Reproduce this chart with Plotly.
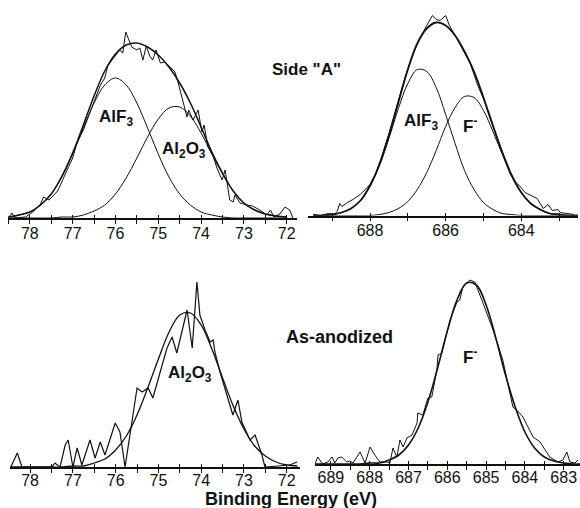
import plotly.graph_objects as go

# ---------------- data (intensities in arbitrary units) ----------------
# Top-left: Al 2p, Side "A"
tl_fit_ev = [78.5, 78.25, 78.0, 77.75, 77.5, 77.25, 77.0, 76.75, 76.5, 76.25, 76.0, 75.75, 75.5,
             75.25, 75.0, 74.75, 74.5, 74.25, 74.0, 73.75, 73.5, 73.25, 73.0, 72.75, 72.5, 72.25, 72.0]
tl_alf3 = [1, 3, 6, 13, 24, 41, 64, 90, 115, 133, 140, 133, 115, 90, 64, 41, 24, 13, 6, 3, 1, 0, 0, 0, 0, 0, 0]
tl_al2o3 = [0, 0, 0, 0, 0, 1, 1, 3, 7, 13, 24, 40, 60, 81, 99, 110, 111, 102, 85, 64, 44, 27, 15, 8, 4, 2, 1]
tl_env = [1, 3, 6, 13, 24, 42, 65, 93, 122, 147, 164, 173, 175, 171, 163, 151, 135, 115, 91, 66, 45, 27, 15, 8, 4, 2, 1]
tl_raw_ev = [78.50, 78.42, 78.35, 78.10, 77.93, 77.75, 77.68, 77.55, 77.35, 77.15, 77.00, 76.90, 76.75,
             76.60, 76.45, 76.35, 76.25, 76.18, 76.08, 76.00, 75.90, 75.83, 75.76, 75.62, 75.55, 75.50,
             75.43, 75.36, 75.28, 75.20, 75.13, 75.05, 74.95, 74.85, 74.72, 74.61, 74.54, 74.45, 74.33,
             74.29, 74.19, 74.07, 73.98, 73.93, 73.84, 73.72, 73.63, 73.51, 73.44, 73.33, 73.25, 73.21,
             73.09, 72.93, 72.80, 72.63, 72.46, 72.38, 72.30, 72.16, 72.04, 71.93, 71.86]
tl_raw = [0, 5, 0, 1, 6, 14, 21, 18, 27, 45, 60, 75, 88, 105, 122, 133, 140, 152, 158, 163, 168, 165,
          186, 171, 169, 168, 170, 158, 172, 162, 158, 168, 155, 156, 151, 146, 136, 122, 101, 108, 98,
          108, 86, 93, 71, 62, 50, 38, 48, 18, 16, 23, 15, 13, 12, 8, 3, 8, 1, 4, 11, 8, 0]

# Top-right: F 1s, Side "A"
tr_fit_ev = [689.5, 689.25, 689.0, 688.75, 688.5, 688.25, 688.0, 687.75, 687.5, 687.25, 687.0, 686.75,
             686.5, 686.25, 686.0, 685.75, 685.5, 685.25, 685.0, 684.75, 684.5, 684.25, 684.0, 683.75,
             683.5, 683.25, 683.0, 682.75, 682.5]
tr_alf3 = [0, 0, 1, 3, 7, 15, 29, 50, 77, 107, 132, 146, 144, 128, 101, 72, 45, 26, 13, 6, 2, 1, 0, 0, 0, 0, 0, 0, 0]
tr_fion = [0, 0, 0, 0, 0, 0, 0, 1, 3, 7, 14, 26, 43, 65, 89, 108, 119, 118, 105, 84, 61, 39, 23, 12, 6, 2, 1, 0, 0]
tr_env = [0, 0, 1, 3, 7, 15, 30, 51, 80, 113, 146, 172, 187, 193, 190, 180, 164, 144, 118, 90, 63, 40, 23, 12, 6, 2, 1, 0, 0]
tr_raw_ev = [689.50, 689.30, 689.10, 688.95, 688.87, 688.80, 688.74, 688.60, 688.45, 688.26, 688.10,
             688.00, 687.85, 687.70, 687.50, 687.30, 687.10, 686.90, 686.70, 686.50, 686.35, 686.25,
             686.15, 686.00, 685.90, 685.75, 685.55, 685.35, 685.15, 685.00, 684.85, 684.70, 684.50,
             684.30, 684.15, 684.05, 683.90, 683.75, 683.58, 683.42, 683.29, 683.18, 683.03, 682.97, 682.60]
tr_raw = [1, 0, 2, 1, 4, 12, 9, 13, 16, 21, 27, 31, 42, 58, 82, 108, 135, 158, 176, 190, 200, 196, 195,
          200, 190, 180, 166, 152, 130, 117, 100, 84, 64, 42, 33, 30, 23, 20, 17, 7, 11, 5, 6, 3, 1]

# Bottom-left: Al 2p, as-anodized
bl_fit_ev = [78.5, 78.25, 78.0, 77.75, 77.5, 77.25, 77.0, 76.75, 76.5, 76.25, 76.0, 75.75, 75.5, 75.25,
             75.0, 74.75, 74.5, 74.25, 74.0, 73.75, 73.5, 73.25, 73.0, 72.75, 72.5, 72.25, 72.0, 71.75]
bl_al2o3 = [0, 0, 0, 0, 0, 0, 1, 1, 4, 8, 17, 31, 52, 79, 108, 135, 152, 154, 142, 118, 89, 61, 38, 21, 11, 5, 2, 1]
bl_raw_ev = [78.45, 78.30, 78.19, 77.49, 77.42, 77.30, 77.18, 77.11, 77.00, 76.90, 76.79, 76.60, 76.48,
             76.36, 76.25, 76.01, 75.90, 75.78, 75.50, 75.38, 75.24, 75.13, 74.80, 74.68, 74.57, 74.33,
             74.21, 74.10, 74.03, 73.91, 73.79, 73.72, 73.68, 73.56, 73.42, 73.26, 73.14, 73.05, 72.86,
             72.74, 72.58, 72.51, 72.20, 71.93, 71.76]
bl_raw = [0, 14, 0, 0, 4, 0, 22, 27, 0, 19, 2, 27, 9, 25, 12, 44, 35, 0, 79, 75, 79, 69, 119, 130, 114,
          157, 119, 185, 152, 137, 125, 127, 115, 95, 75, 52, 67, 45, 27, 32, 12, 0, 1, 2, 5]

# Bottom-right: F 1s, as-anodized
br_fit_ev = [689.5, 689.25, 689.0, 688.75, 688.5, 688.25, 688.0, 687.75, 687.5, 687.25, 687.0, 686.75,
             686.5, 686.25, 686.0, 685.75, 685.5, 685.25, 685.0, 684.75, 684.5, 684.25, 684.0, 683.75,
             683.5, 683.25, 683.0, 682.75, 682.5]
br_fion = [0, 0, 0, 0, 0, 0, 1, 1, 4, 9, 19, 36, 62, 96, 133, 164, 181, 179, 159, 126, 89, 57, 32, 16, 7, 3, 1, 0, 0]
br_raw_ev = [689.41, 689.34, 689.21, 689.08, 688.97, 688.90, 688.82, 688.72, 688.59, 688.51, 688.43,
             688.25, 688.12, 687.99, 687.87, 687.74, 687.56, 687.48, 687.40, 687.30, 687.22, 687.14,
             687.04, 686.91, 686.78, 686.76, 686.63, 686.50, 686.40, 686.27, 686.24, 686.14, 685.93,
             685.75, 685.68, 685.60, 685.42, 685.29, 685.08, 684.82, 684.57, 684.31, 684.21, 684.05,
             683.79, 683.61, 683.36, 683.15, 683.02, 682.92, 682.84, 682.71, 682.63]
br_raw = [0, 7, 0, 2, 7, 1, 6, 7, 2, 3, 1, 12, 1, 17, 9, 2, 2, 1, 16, 7, 24, 17, 26, 29, 41, 51, 49, 66,
          67, 94, 109, 111, 144, 162, 164, 177, 184, 182, 161, 134, 104, 57, 54, 47, 27, 22, 7, 2, 4,
          12, 2, 1, 4]

# ---------------- figure ----------------
W, H = 580, 508
INK = "#111111"
FONT = "Liberation Sans, Arial, Helvetica, sans-serif"

fig = go.Figure()


def line(x, y, xa, ya, width, shape="linear"):
    fig.add_trace(go.Scatter(x=x, y=y, xaxis=xa, yaxis=ya, mode="lines",
                             line=dict(color=INK, width=width, shape=shape),
                             hoverinfo="skip", showlegend=False))


# top-left
line(tl_raw_ev, tl_raw, "x", "y", 1.0)
line(tl_fit_ev, tl_alf3, "x", "y", 1.0, "spline")
line(tl_fit_ev, tl_al2o3, "x", "y", 1.0, "spline")
line(tl_fit_ev, tl_env, "x", "y", 1.5, "spline")
# top-right
line(tr_raw_ev, tr_raw, "x2", "y2", 1.0)
line(tr_fit_ev, tr_alf3, "x2", "y2", 1.0, "spline")
line(tr_fit_ev, tr_fion, "x2", "y2", 1.0, "spline")
line(tr_fit_ev, tr_env, "x2", "y2", 1.8, "spline")
# bottom-left
line(bl_raw_ev, bl_raw, "x3", "y3", 1.2)
line(bl_fit_ev, bl_al2o3, "x3", "y3", 1.3, "spline")
# bottom-right
line(br_raw_ev, br_raw, "x4", "y4", 1.0)
line(br_fit_ev, br_fion, "x4", "y4", 1.6, "spline")

# empty traces so that the overlay (inside-tick) axes are drawn
for xa, ya in (("x5", "y"), ("x6", "y2"), ("x7", "y3"), ("x8", "y4")):
    fig.add_trace(go.Scatter(x=[], y=[], xaxis=xa, yaxis=ya, mode="lines",
                             hoverinfo="skip", showlegend=False))


def px_x(a, b):
    return [a / W, b / W]


def px_y(base, top):
    return [1 - base / H, 1 - top / H]


panels = {
    # name: (x-domain px, range, tick0, dtick, minor dtick, y base px, y top px, label standoff)
    "1": ((8, 297), [78.51, 71.76], 72, 1, 0.5, 218, 10, -4),
    "2": ((308, 578), [689.64, 682.50], 684, 2, 1, 215.5, 10, -4),
    "3": ((10, 300), [78.47, 71.69], 72, 1, 0.5, 467, 262, -6),
    "4": ((315, 580), [689.41, 682.58], 683, 1, 0.5, 464, 262, -6),
}

layout = dict(width=W, height=H, margin=dict(l=0, r=0, t=0, b=0),
              paper_bgcolor="white", plot_bgcolor="white", showlegend=False)

for i, (name, (xd, rng, t0, dt, mdt, yb, yt, so)) in enumerate(panels.items()):
    xk = "xaxis" if name == "1" else f"xaxis{name}"
    yk = "yaxis" if name == "1" else f"yaxis{name}"
    yref = "y" if name == "1" else f"y{name}"
    layout[xk] = dict(domain=px_x(*xd), range=rng, anchor=yref,
                      showline=True, linecolor=INK, linewidth=1.5,
                      showgrid=False, zeroline=False,
                      tickmode="linear", tick0=t0, dtick=dt,
                      ticks="outside", ticklen=4, tickwidth=1.2, tickcolor=INK,
                      ticklabelstandoff=so,
                      minor=dict(ticks="outside", ticklen=4, tickwidth=1.0, tickcolor=INK,
                                 dtick=mdt, tick0=t0, showgrid=False),
                      tickfont=dict(family=FONT, size=16, color=INK),
                      fixedrange=True)
    layout[yk] = dict(domain=px_y(yb, yt), range=[0, yb - yt], anchor=("x" if name == "1" else f"x{name}"),
                      visible=False, fixedrange=True)
    ov = f"xaxis{int(name) + 4}"
    layout[ov] = dict(overlaying=("x" if name == "1" else f"x{name}"), anchor=yref,
                      range=rng, showline=False, showgrid=False, zeroline=False,
                      tickmode="linear", tick0=t0, dtick=dt, showticklabels=False,
                      ticks="inside", ticklen=3, tickwidth=1.2, tickcolor=INK,
                      minor=dict(ticks="inside", ticklen=3, tickwidth=1.0, tickcolor=INK,
                                 dtick=mdt, tick0=t0, showgrid=False),
                      fixedrange=True)

fig.update_layout(**layout)


def note(text, x, y, size, bold=True):
    fig.add_annotation(text=(f"<b>{text}</b>" if bold else text), x=x / W, y=1 - y / H,
                       xref="paper", yref="paper", xanchor="center", yanchor="middle",
                       showarrow=False, font=dict(family=FONT, size=size, color=INK))


note('Side "A"', 306, 70, 17)
note("As-anodized", 340, 337, 18)
note("Binding Energy (eV)", 291, 499, 18)
note("AlF<sub>3</sub>", 116, 118, 17)
note("Al<sub>2</sub>O<sub>3</sub>", 184, 150, 17)
note("AlF<sub>3</sub>", 421, 122, 17)
note("F<sup>-</sup>", 470, 125, 17)
note("Al<sub>2</sub>O<sub>3</sub>", 190, 374, 17)
note("F<sup>-</sup>", 470, 356, 17)

fig.write_html("out.html")
